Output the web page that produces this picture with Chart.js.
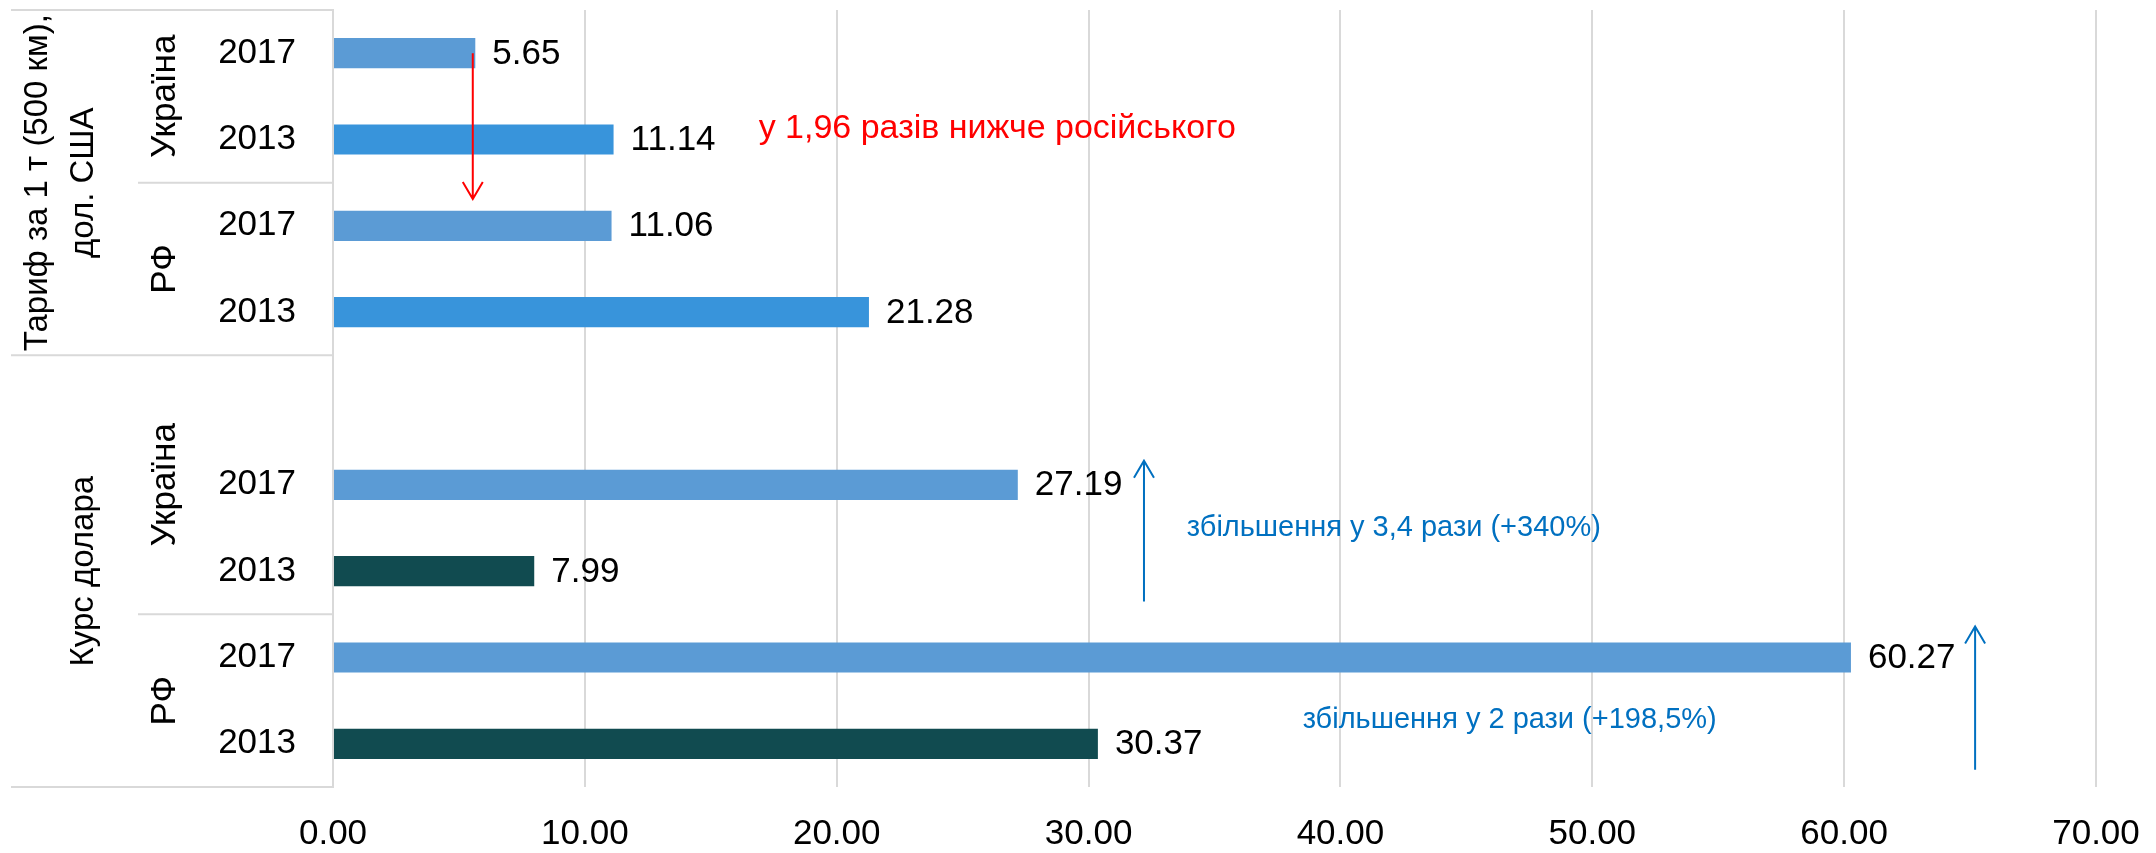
<!DOCTYPE html>
<html>
<head>
<meta charset="utf-8">
<script src="https://cdn.jsdelivr.net/npm/chart.js@4.4.1/dist/chart.umd.min.js"></script>
<style>
  html, body { margin: 0; padding: 0; background: #fff; }
  #wrap { width: 2156px; height: 853px; }
</style>
</head>
<body>
<div id="wrap"><canvas id="chart"></canvas></div>
<script>
// values
const groupNames = [['Тариф за 1 т (500 км),', 'дол. США'], ['Курс долара']];
const countryNames = ['Україна', 'РФ'];
const yearLabels = ['2017', '2013'];
// order: Україна 2017, Україна 2013, РФ 2017, РФ 2013
const tariffValues = [5.65, 11.14, 11.06, 21.28];
const rateValues = [27.19, 7.99, 60.27, 30.37];
const xMin = 0;
const xMax = 70;
const xStep = 10;

const FONT = "'Liberation Sans Narrow', 'Liberation Sans', Arial, sans-serif";
const GRID = '#D9D9D9';

// rows of the category axis, top to bottom (second group starts with an empty row)
const rows = [];
[tariffValues, rateValues].forEach(function (vals, g) {
  if (g === 1) rows.push({ group: g, country: 0, year: '', value: null });
  vals.forEach(function (v, i) {
    rows.push({ group: g, country: Math.floor(i / 2), year: yearLabels[i % 2], value: v });
  });
});

function barColor(r) {
  if (r.year === '2017') return '#5B9BD5';
  return r.group === 0 ? '#3894DB' : '#114B50';
}

// multi-level labels + table lines on the left
const leftLabels = {
  id: 'leftLabels',
  afterDraw(chart) {
    const ctx = chart.ctx;
    const y = chart.scales.y;
    const area = chart.chartArea;
    const step = y.getPixelForValue(1) - y.getPixelForValue(0);
    const top = i => y.getPixelForValue(i) - step / 2;
    const bottom = i => y.getPixelForValue(i) + step / 2;

    ctx.save();
    ctx.strokeStyle = GRID;
    ctx.lineWidth = 2;
    function hline(py, x0) {
      ctx.beginPath();
      ctx.moveTo(x0, py);
      ctx.lineTo(area.left, py);
      ctx.stroke();
    }
    function vtext(txt, px, py) {
      ctx.save();
      ctx.translate(px, py);
      ctx.rotate(-Math.PI / 2);
      ctx.fillText(txt, 0, 0);
      ctx.restore();
    }
    ctx.fillStyle = '#000';
    ctx.textAlign = 'center';
    ctx.textBaseline = 'middle';

    hline(top(0), 11);
    groupNames.forEach(function (lines, g) {
      const idx = rows.map((r, i) => r.group === g ? i : -1).filter(i => i >= 0);
      const gTop = top(idx[0]);
      const gBot = bottom(idx[idx.length - 1]);
      hline(gBot, 11);
      // group label, last line nearest the axis
      ctx.font = '33px ' + FONT;
      for (let k = 0; k < lines.length; k++) {
        const px = 84 - (lines.length - 1 - k) * 46;
        vtext(lines[k], px, (gTop + gBot) / 2);
      }
      ctx.font = '35px ' + FONT;
      countryNames.forEach(function (name, c) {
        const ci = idx.filter(i => rows[i].country === c);
        const cTop = top(ci[0]);
        const cBot = bottom(ci[ci.length - 1]);
        if (c < countryNames.length - 1) hline(cBot, 138);
        vtext(name, 165, (cTop + cBot) / 2);
      });
    });
    ctx.restore();
  }
};

// value labels at bar ends
const valueLabels = {
  id: 'valueLabels',
  afterDatasetsDraw(chart) {
    const ctx = chart.ctx;
    const meta = chart.getDatasetMeta(0);
    ctx.save();
    ctx.fillStyle = '#000';
    ctx.font = '35px ' + FONT;
    ctx.textAlign = 'left';
    ctx.textBaseline = 'middle';
    meta.data.forEach(function (bar, i) {
      const v = rows[i].value;
      if (v === null) return;
      ctx.fillText(v.toFixed(2), bar.x + 17, bar.y + 1);
    });
    ctx.restore();
  }
};

// arrows and comments, placed in value / category units
const notes = {
  id: 'notes',
  afterDraw(chart) {
    const ctx = chart.ctx;
    const xs = chart.scales.x;
    const ys = chart.scales.y;
    const px = v => xs.getPixelForValue(v);
    const py = k => ys.getPixelForValue(0) + (ys.getPixelForValue(1) - ys.getPixelForValue(0)) * k;

    function arrow(color, x, yFrom, yTip) {
      const X = px(x), A = py(yFrom), B = py(yTip);
      const dir = B > A ? -1 : 1;
      ctx.strokeStyle = color;
      ctx.lineWidth = 2;
      ctx.beginPath();
      ctx.moveTo(X, A);
      ctx.lineTo(X, B);
      ctx.moveTo(X - 10, B + dir * 17);
      ctx.lineTo(X, B);
      ctx.lineTo(X + 10, B + dir * 17);
      ctx.stroke();
    }
    function note(color, size, txt, x, k) {
      ctx.fillStyle = color;
      ctx.font = size + 'px ' + FONT;
      ctx.textAlign = 'left';
      ctx.textBaseline = 'middle';
      ctx.fillText(txt, px(x), py(k));
    }

    ctx.save();
    arrow('#FF0000', 5.55, 0, 1.69);
    note('#FF0000', 34, 'у 1,96 разів нижче російського', 16.9, 0.87);
    arrow('#0070C0', 32.2, 6.35, 4.72);
    note('#0070C0', 29, 'збільшення у 3,4 рази (+340%)', 33.9, 5.5);
    arrow('#0070C0', 65.2, 8.3, 6.64);
    note('#0070C0', 29, 'збільшення у 2 рази (+198,5%)', 38.5, 7.72);
    ctx.restore();
  }
};

const canvas = document.getElementById('chart');
canvas.width = 2156;
canvas.height = 853;

new Chart(canvas, {
  type: 'bar',
  data: {
    labels: rows.map(r => r.year),
    datasets: [{
      data: rows.map(r => r.value),
      backgroundColor: rows.map(barColor),
      borderWidth: 0,
      categoryPercentage: 1,
      barPercentage: 0.35
    }]
  },
  options: {
    indexAxis: 'y',
    responsive: false,
    animation: false,
    devicePixelRatio: 1,
    layout: { padding: { top: 10, right: 60, bottom: 0, left: 0 } },
    scales: {
      x: {
        min: xMin,
        max: xMax,
        afterFit(s) { s.height = 66; s.paddingLeft = 0; s.paddingRight = 0; },
        grid: { color: GRID, lineWidth: 2, drawTicks: false },
        border: { display: false },
        ticks: {
          stepSize: xStep,
          padding: 26,
          color: '#000',
          font: { family: FONT, size: 35 },
          callback: v => Number(v).toFixed(2)
        }
      },
      y: {
        afterFit(s) { s.width = 333; s.paddingTop = 0; s.paddingBottom = 0; },
        grid: { display: false, drawTicks: false },
        border: { display: true, color: GRID, width: 2 },
        ticks: {
          padding: 37,
          color: '#000',
          font: { family: FONT, size: 35 },
          autoSkip: false
        }
      }
    },
    plugins: {
      legend: { display: false },
      tooltip: { enabled: false }
    }
  },
  plugins: [leftLabels, valueLabels, notes]
});
</script>
</body>
</html>
